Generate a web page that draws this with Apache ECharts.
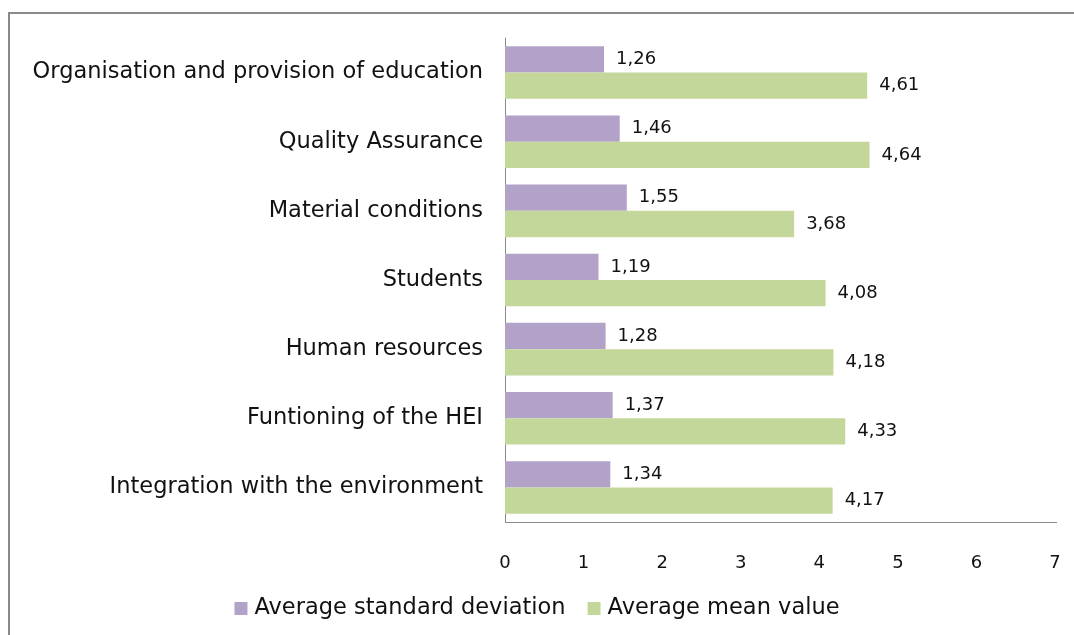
<!DOCTYPE html>
<html>
<head>
<meta charset="utf-8">
<script src="https://cdn.jsdelivr.net/npm/echarts@6/dist/echarts.min.js"></script>
<style type="text/css">
    html, body{
        margin:0;
        padding:0;
        background:#fff;
    }
    .frame{
        position:absolute;
        left:8px;
        top:12px;
        width:1080px;
        height:640px;
        border:2px solid #8a8a8a;
        box-sizing:border-box;
    }
    #chart{
        position:absolute;
        left:0;
        top:0;
        width:1074px;
        height:635px;
    }
</style>
</head>
<body>
<div class="frame"></div>
<div id="chart"></div>
<script type="text/javascript">
    var categories = [
        'Organisation and provision of education',
        'Quality Assurance',
        'Material conditions',
        'Students',
        'Human resources',
        'Funtioning of the HEI',
        'Integration with the environment'
    ];
    var stdDevValues = [1.26, 1.46, 1.55, 1.19, 1.28, 1.37, 1.34];
    var meanValues = [4.61, 4.64, 3.68, 4.08, 4.18, 4.33, 4.17];
    var seriesNames = ['Average standard deviation', 'Average mean value'];

    var fontFamily = 'Verdana, "DejaVu Sans", sans-serif';

    // 数值标签用逗号作小数点
    function commaFormat(v){
        return v.toFixed(2).replace('.', ',');
    }

    var chart = echarts.init(document.getElementById('chart'));
    chart.setOption({
        animation:false,
        textStyle:{fontFamily:fontFamily},
        grid:{left:505, right:19, top:38, bottom:113},
        legend:{
            bottom:10,
            left:'center',
            itemWidth:13,
            itemHeight:13,
            itemGap:22,
            icon:'rect',
            textStyle:{fontSize:22.5, color:'#111', fontFamily:fontFamily, padding:[0, 0, 0, 2]},
            data:seriesNames
        },
        xAxis:{
            type:'value',
            min:0,
            max:7,
            interval:1,
            splitLine:{show:false},
            axisLine:{show:false},
            axisTick:{show:false},
            axisLabel:{fontSize:18, color:'#111', margin:32, fontFamily:fontFamily}
        },
        yAxis:{
            type:'category',
            inverse:true,
            data:categories,
            axisLine:{show:true, lineStyle:{color:'#8a8a8a', width:1}},
            axisTick:{show:false},
            axisLabel:{fontSize:22.5, color:'#111', margin:22, fontFamily:fontFamily}
        },
        series:[
            {
                name:seriesNames[0],
                type:'bar',
                data:stdDevValues,
                barGap:'0%',
                barCategoryGap:'24%',
                itemStyle:{color:'#b3a2c7'},
                label:{show:true, position:'right', distance:12, fontSize:18, color:'#111',
                    formatter:function(p){return commaFormat(p.value);}}
            },
            {
                name:seriesNames[1],
                type:'bar',
                data:meanValues,
                barGap:'0%',
                barCategoryGap:'24%',
                itemStyle:{color:'#c4d79b'},
                label:{show:true, position:'right', distance:12, fontSize:18, color:'#111',
                    formatter:function(p){return commaFormat(p.value);}},
                markLine:{
                    silent:true,
                    symbol:'none',
                    label:{show:false},
                    lineStyle:{color:'#8a8a8a', type:'solid', width:1},
                    data:[[{x:505, y:522}, {x:1057, y:522}]]
                }
            }
        ]
    });
</script>
</body>
</html>
